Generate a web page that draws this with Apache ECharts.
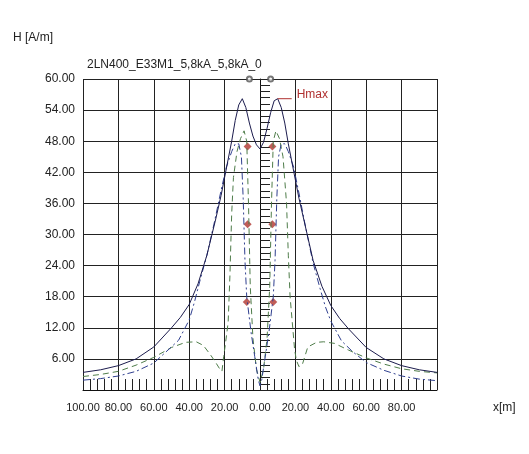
<!DOCTYPE html>
<html>
<head>
<meta charset="utf-8">
<script src="https://cdn.jsdelivr.net/npm/echarts@6/dist/echarts.min.js"></script>
<style>
  html, body { margin: 0; padding: 0; background: #fff; }
  #chart { width: 529px; height: 454px; }
</style>
</head>
<body>
<div id="chart"></div>
<script>
// x ticks go from -100 to 100, labels are shown as absolute values
const xTicks = [-100, -80, -60, -40, -20, 0, 20, 40, 60, 80];
const yTicks = [6, 12, 18, 24, 30, 36, 42, 48, 54, 60];

// solid curve (Hmax)
const xSolid = [-100, -90, -80, -70, -60, -50, -45, -40, -35, -30, -25, -22, -20, -18, -16, -14, -12, -10, -8, -6, -4, -2, 0,
  2, 4, 6, 8, 10, 12, 14, 16, 18, 20, 22, 25, 30, 35, 40, 45, 50, 60, 70, 80, 90, 100];
const hSolid = [3.4, 3.9, 4.7, 6.0, 8.3, 12.0, 14.0, 16.5, 20.5, 26.0, 33.0, 37.5, 41.0, 44.5, 48.0, 52.0, 55.0, 56.2, 54.5, 51.5, 49.0, 47.3, 46.5,
  47.8, 50.5, 53.5, 55.8, 56.2, 54.5, 51.5, 47.5, 44.0, 40.5, 37.0, 32.5, 25.0, 20.0, 16.3, 13.8, 11.8, 8.2, 6.0, 4.7, 3.9, 3.4];

// blue dash-dot curve
const xBlue = [-100, -90, -80, -70, -60, -52, -46, -40, -37, -34, -30, -26, -22, -19, -16, -14, -12, -10.5, -9.5, -8.5, -7.5, -5, -3, -1, 0,
  1, 3, 5, 7.5, 8.5, 9.5, 10.5, 12, 14, 16, 19, 22, 26, 30, 34, 37, 40, 46, 52, 60, 70, 80, 90, 100];
const hBlue = [1.9, 2.2, 2.7, 3.6, 5.2, 7.7, 9.6, 13.5, 17.0, 21.0, 26.0, 32.0, 38.5, 43.0, 46.0, 47.5, 47.5, 45.0, 37.0, 25.0, 18.0, 11.0, 6.5, 2.0, 0.8,
  2.0, 6.5, 11.0, 18.0, 25.0, 37.0, 45.0, 47.5, 47.5, 46.0, 43.0, 38.0, 31.0, 24.5, 19.5, 16.0, 13.3, 9.5, 7.5, 5.3, 3.8, 2.7, 2.1, 1.8];

// green dashed curve
const xGreen = [-100, -90, -80, -70, -60, -50, -42, -36, -32, -28, -25, -23, -21.5, -20.5, -19.5, -18, -17, -16, -15, -13, -11, -9, -7.5, -6.5, -5.5, -4, -2, 0,
  2, 4, 5.5, 6.5, 7.5, 9, 11, 13, 15, 16, 17, 18.5, 19.5, 20.5, 22, 24, 27, 32, 36, 42, 50, 60, 70, 80, 90, 100];
const hGreen = [2.6, 3.0, 3.6, 4.8, 6.3, 8.2, 9.2, 9.3, 8.6, 6.8, 5.3, 4.2, 3.6, 6.5, 9.0, 13.0, 22.0, 34.0, 41.0, 46.0, 48.5, 50.0, 48.0, 36.0, 20.0, 10.0, 4.0, 1.5,
  4.0, 10.0, 20.0, 36.0, 48.0, 50.0, 48.5, 45.0, 36.0, 26.0, 18.0, 12.0, 8.0, 5.8, 4.5, 5.0, 8.3, 9.2, 9.3, 9.0, 7.7, 6.2, 5.0, 4.1, 3.6, 3.3];

// red diamond markers
const markX = [-7, 7, -7, 7, -7.5, 7.5];
const markY = [47, 47, 32, 32, 17, 17];

// small circles on the top border
const topX = [-6, 6];
const topY = [60, 60];

const pairs = (xs, ys) => xs.map((x, i) => [x, ys[i]]);

// right-hand Hmax peak
let peakIdx = 0;
xSolid.forEach((x, i) => {
  if (x > 0 && hSolid[i] >= (xSolid[peakIdx] > 0 ? hSolid[peakIdx] : -1)) peakIdx = i;
});

const font = 'Liberation Sans, Arial, sans-serif';
const chart = echarts.init(document.getElementById('chart'));

chart.setOption({
  animation: false,
  backgroundColor: '#fff',
  title: [
    { text: 'H [A/m]', left: 8, top: 27, textStyle: { fontFamily: font, fontSize: 12, fontWeight: 'normal', color: '#222' } },
    { text: '2LN400_E33M1_5,8kA_5,8kA_0', left: 82, top: 54, textStyle: { fontFamily: font, fontSize: 12, fontWeight: 'normal', color: '#222' } }
  ],
  grid: { left: 83, right: 92, top: 79, bottom: 64 },
  xAxis: {
    type: 'value',
    min: -100,
    max: 100,
    interval: 20,
    name: 'x[m]',
    nameLocation: 'end',
    nameGap: 56,
    nameTextStyle: { fontFamily: font, fontSize: 12, color: '#222', verticalAlign: 'top', padding: [12, 0, 0, 0] },
    axisLine: { lineStyle: { color: '#111', width: 1 } },
    axisTick: { show: true, inside: true, length: 11, lineStyle: { color: '#222' } },
    minorTick: { show: true, splitNumber: 5, length: 11, lineStyle: { color: '#222', width: 1 } },
    splitLine: { show: true, lineStyle: { color: '#222', width: 1 } },
    axisLabel: {
      fontFamily: font, fontSize: 11, color: '#222', margin: 12,
      showMaxLabel: false,
      formatter: v => (xTicks.includes(v) ? Math.abs(v).toFixed(2) : '')
    }
  },
  yAxis: {
    type: 'value',
    min: 0,
    max: 60,
    interval: 6,
    axisLine: { show: true, lineStyle: { color: '#111', width: 1 } },
    axisTick: { show: true, inside: true, length: 10, lineStyle: { color: '#222' } },
    minorTick: { show: true, splitNumber: 5, length: 10, lineStyle: { color: '#222', width: 1 } },
    splitLine: { show: true, lineStyle: { color: '#222', width: 1 } },
    axisLabel: {
      fontFamily: font, fontSize: 12, color: '#222', margin: 8,
      showMinLabel: false,
      formatter: v => (yTicks.includes(v) ? v.toFixed(2) : '')
    }
  },
  series: [
    {
      name: 'green',
      type: 'line',
      data: pairs(xGreen, hGreen),
      showSymbol: false,
      lineStyle: { color: '#4f7d4a', width: 1, type: [6, 4] }
    },
    {
      name: 'blue',
      type: 'line',
      data: pairs(xBlue, hBlue),
      showSymbol: false,
      lineStyle: { color: '#2f3f8f', width: 1, type: [7, 3, 2, 3] }
    },
    {
      name: 'Hmax',
      type: 'line',
      data: pairs(xSolid, hSolid),
      showSymbol: false,
      lineStyle: { color: '#1c1c4e', width: 1 },
      markPoint: {
        symbol: 'rect',
        symbolSize: [14, 1],
        symbolOffset: [7, 0],
        itemStyle: { color: '#b0302f' },
        label: {
          show: true,
          position: 'right',
          formatter: 'Hmax',
          offset: [0, -4],
          fontFamily: font,
          fontSize: 12,
          color: '#b0302f'
        },
        data: [{ coord: [xSolid[peakIdx], hSolid[peakIdx]] }]
      }
    },
    {
      name: 'marks',
      type: 'scatter',
      data: pairs(markX, markY),
      symbol: 'diamond',
      symbolSize: 8,
      itemStyle: { color: '#b0342e' }
    },
    {
      name: 'top',
      type: 'scatter',
      data: pairs(topX, topY),
      symbol: 'emptyCircle',
      symbolSize: 5,
      clip: false,
      itemStyle: { color: '#555', borderWidth: 1 }
    }
  ]
});
</script>
</body>
</html>
